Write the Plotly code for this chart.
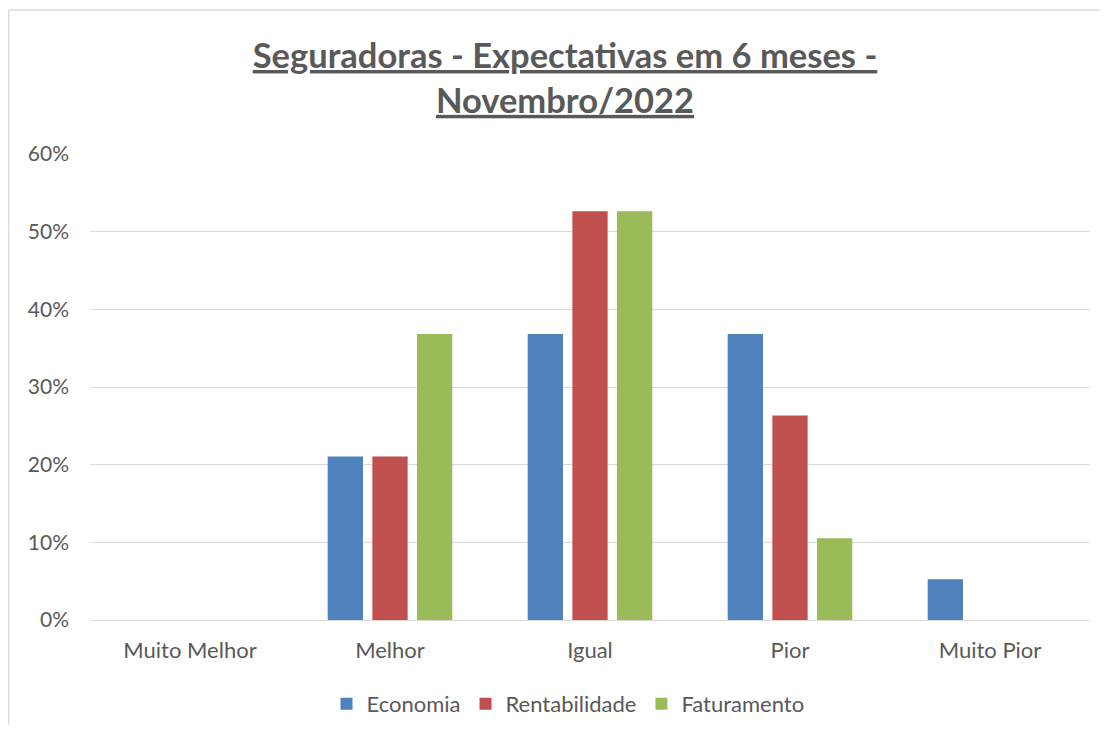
import plotly.graph_objects as go

categories = ["Muito Melhor", "Melhor", "Igual", "Pior", "Muito Pior"]
economia = [0.0, 0.2105, 0.3684, 0.3684, 0.0526]
rentabilidade = [0.0, 0.2105, 0.5263, 0.2632, 0.0]
faturamento = [0.0, 0.3684, 0.5263, 0.1053, 0.0]
tick_vals = [0, 0.1, 0.2, 0.3, 0.4, 0.5, 0.6]
tick_text = ["0%", "10%", "20%", "30%", "40%", "50%", "60%"]

FONT = "Lato"
TXT = "#595959"

fig = go.Figure()
for name, vals, col in [("Economia", economia, "#4F81BD"),
                        ("Rentabilidade", rentabilidade, "#C0504D"),
                        ("Faturamento", faturamento, "#9BBB59")]:
    fig.add_trace(go.Bar(x=categories, y=vals, name=name, marker_color=col,
                         marker_line_width=0))

# page body has an 8px margin: figure starts at page pixel (8, 8);
# sized so that page + body margins fit the 1108x733 window without scrollbars
OFF = 8
W, H = 1092, 717
L, T = 90 - OFF, 154 - OFF
R = W - (1090 - OFF)
B = H - (620 - OFF)
pw, ph = W - L - R, H - T - B

bx = (8 - 90) / pw + 0.6 / pw
by = 1 + (154 - 10) / ph
BORDER = dict(color="#D9D9D9", width=1.5)

fig.update_layout(
    width=W, height=H,
    margin=dict(l=L, r=R, t=T, b=B, autoexpand=False),
    paper_bgcolor="white", plot_bgcolor="white",
    barmode="group", bargap=0.33, bargroupgap=0.21,
    font=dict(family=FONT, color=TXT, size=22),
    title=dict(text="<b><u>Seguradoras - Expectativas em 6 meses -</u></b><br><b><u>Novembro/2022</u></b>",
               x=(565 - OFF) / W, xanchor="center", y=1 - (68 - OFF) / H, yanchor="middle",
               font=dict(family=FONT, size=34.5, color=TXT)),
    xaxis=dict(showgrid=False, showline=False, ticks="", tickfont=dict(size=22, color=TXT),
               ticklabelstandoff=15, automargin=False),
    yaxis=dict(range=[0, 0.6], tickvals=tick_vals, ticktext=tick_text,
               showgrid=True, gridcolor="#D9D9D9", gridwidth=1, zeroline=True,
               zerolinecolor="#D9D9D9", zerolinewidth=1, showline=False, ticks="",
               tickfont=dict(size=21, color=TXT), ticklabelstandoff=20, automargin=False),
    legend=dict(orientation="h", xref="container", yref="container",
                x=(568 - OFF) / W, xanchor="center", y=1 - (704 - OFF) / H,
                yanchor="middle", font=dict(size=22, color=TXT), itemwidth=30,
                traceorder="normal"),
    showlegend=True,
    shapes=[dict(type="line", xref="paper", yref="paper", x0=bx, x1=1.2, y0=by, y1=by,
                 line=BORDER, layer="below"),
            dict(type="line", xref="paper", yref="paper", x0=bx, x1=bx, y0=by, y1=-0.5,
                 line=BORDER, layer="below")],
)

fig.write_html("out.html")
